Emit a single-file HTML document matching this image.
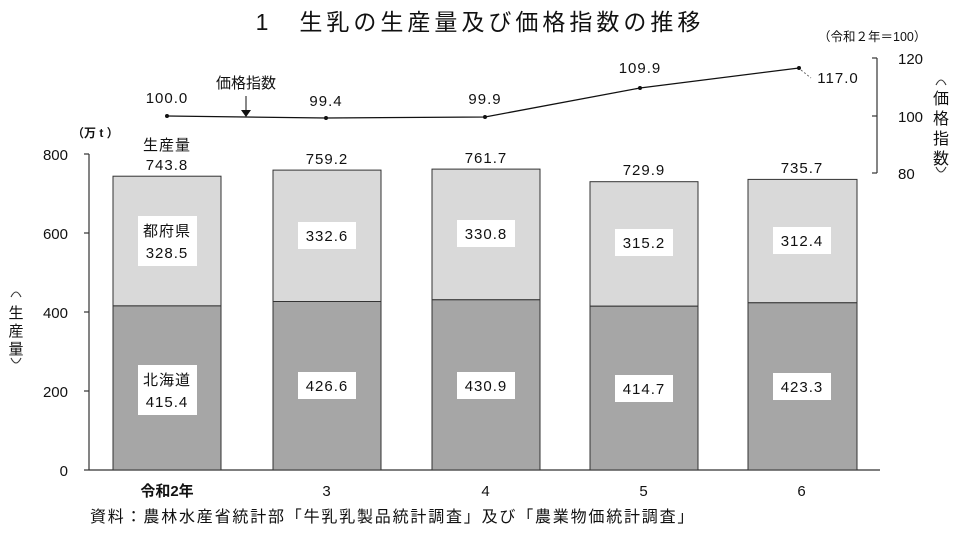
<!DOCTYPE html><html><head><meta charset="utf-8"><style>body{margin:0;background:#fff}text{font-family:"Liberation Sans","Noto Sans CJK JP",sans-serif;fill:#111}</style></head><body>
<svg width="960" height="531" viewBox="0 0 960 531" xmlns="http://www.w3.org/2000/svg">
<text x="480" y="30" font-size="23" letter-spacing="4" text-anchor="middle">1　生乳の生産量及び価格指数の推移</text>
<g stroke="#333" stroke-width="1.2">
<line x1="89" y1="154" x2="89" y2="470"/>
<line x1="84" y1="154" x2="89" y2="154"/><line x1="84" y1="233" x2="89" y2="233"/><line x1="84" y1="312" x2="89" y2="312"/><line x1="84" y1="391" x2="89" y2="391"/><line x1="84" y1="470" x2="89" y2="470"/>
<line x1="89" y1="470" x2="880" y2="470"/>
<line x1="877" y1="58" x2="877" y2="173"/>
<line x1="872" y1="58" x2="877" y2="58"/><line x1="872" y1="116" x2="877" y2="116"/><line x1="872" y1="173" x2="877" y2="173"/>
</g>
<g font-size="15" text-anchor="end"><text x="68" y="160">800</text><text x="68" y="239">600</text><text x="68" y="318">400</text><text x="68" y="397">200</text><text x="68" y="476">0</text></g>
<g font-size="15"><text x="898" y="64">120</text><text x="898" y="122">100</text><text x="898" y="179">80</text></g>
<text x="72" y="137" font-size="12" font-weight="bold">（万 t ）</text>
<text x="818" y="41" font-size="12.5">（令和２年＝100）</text>
<g fill="none" stroke="#333" stroke-width="1.1">
<path d="M11,297 Q16,287 21,297"/><path d="M11,358 Q16,368 21,358"/>
<path d="M936,85 Q941,75 946,85"/><path d="M936,167 Q941,177 946,167"/>
</g>
<g font-size="15" text-anchor="middle" fill="#333"><text x="16" y="318">生</text><text x="16" y="336">産</text><text x="16" y="354">量</text></g>
<g font-size="16" text-anchor="middle" fill="#333"><text x="941" y="104">価</text><text x="941" y="124">格</text><text x="941" y="144">指</text><text x="941" y="164">数</text></g>
<g stroke="#333" stroke-width="1">
<rect x="113" y="176.2" width="108" height="129.7" fill="#d9d9d9"/><rect x="113" y="305.9" width="108" height="164.1" fill="#a6a6a6"/>
<rect x="273" y="170.1" width="108" height="131.4" fill="#d9d9d9"/><rect x="273" y="301.5" width="108" height="168.5" fill="#a6a6a6"/>
<rect x="432" y="169.1" width="108" height="130.7" fill="#d9d9d9"/><rect x="432" y="299.8" width="108" height="170.2" fill="#a6a6a6"/>
<rect x="590" y="181.7" width="108" height="124.5" fill="#d9d9d9"/><rect x="590" y="306.2" width="108" height="163.8" fill="#a6a6a6"/>
<rect x="748" y="179.4" width="109" height="123.4" fill="#d9d9d9"/><rect x="748" y="302.8" width="109" height="167.2" fill="#a6a6a6"/>
</g>
<g fill="#fff">
<rect x="138" y="216" width="59" height="50"/><rect x="298" y="222" width="58" height="27"/><rect x="457" y="220" width="58" height="27"/><rect x="615" y="229" width="58" height="27"/><rect x="773" y="227" width="58" height="27"/>
<rect x="138" y="365" width="59" height="50"/><rect x="298" y="372" width="58" height="27"/><rect x="457" y="372" width="58" height="27"/><rect x="615" y="375" width="58" height="27"/><rect x="773" y="373" width="58" height="27"/>
</g>
<g font-size="15" text-anchor="middle" letter-spacing="1">
<text x="167" y="236" fill="#444">都府県</text><text x="167" y="258">328.5</text>
<text x="327" y="241">332.6</text><text x="486" y="239">330.8</text><text x="644" y="248">315.2</text><text x="802" y="246">312.4</text>
<text x="167" y="385" fill="#444">北海道</text><text x="167" y="407">415.4</text>
<text x="327" y="391">426.6</text><text x="486" y="391">430.9</text><text x="644" y="394">414.7</text><text x="802" y="392">423.3</text>
<text x="167" y="150" fill="#444">生産量</text><text x="167" y="170">743.8</text>
<text x="327" y="164">759.2</text><text x="486" y="163">761.7</text><text x="644" y="175">729.9</text><text x="802" y="173">735.7</text>
<text x="167" y="103">100.0</text><text x="326" y="106">99.4</text><text x="485" y="104">99.9</text><text x="640" y="73">109.9</text><text x="838" y="83">117.0</text>
<text x="246" y="88" fill="#444" letter-spacing="0">価格指数</text>
<text x="167" y="496" font-weight="bold" letter-spacing="0">令和2年</text><text x="327" y="496">3</text><text x="486" y="496">4</text><text x="644" y="496">5</text><text x="802" y="496">6</text>
</g>
<polyline points="167,116 326,118 485,117 640,88 799,68" fill="none" stroke="#111" stroke-width="1.3"/>
<g fill="#111"><circle cx="167" cy="116" r="2"/><circle cx="326" cy="118" r="2"/><circle cx="485" cy="117" r="2"/><circle cx="640" cy="88" r="2"/><circle cx="799" cy="68" r="2"/></g>
<line x1="801" y1="70" x2="811" y2="78" stroke="#666" stroke-dasharray="2,2"/>
<line x1="246" y1="96" x2="246" y2="112" stroke="#111"/><polygon points="241,110 251,110 246,117" fill="#111"/>
<text x="90" y="522" font-size="16" letter-spacing="1.8">資料：農林水産省統計部「牛乳乳製品統計調査」及び「農業物価統計調査」</text>
</svg></body></html>
